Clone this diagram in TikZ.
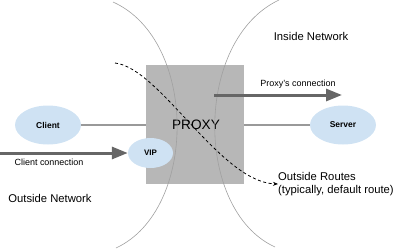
\documentclass[tikz,border=0pt]{standalone}
\usepackage{fontspec}
\setmainfont{Liberation Sans}
\usetikzlibrary{shapes.geometric,arrows.meta}
\definecolor{bubble}{HTML}{CFE2F3}
\definecolor{boxgray}{HTML}{B7B7B7}
\definecolor{linegray}{HTML}{999999}
\definecolor{bordergray}{HTML}{A0A0A0}
\definecolor{arrowgray}{HTML}{666666}
\tikzset{
  host/.style={ellipse, fill=bubble, draw=none, inner sep=0pt, font=\bfseries\fontsize{8.5}{10}\selectfont},
  link/.style={draw=linegray, line width=1.3bp},
  border/.style={draw=bordergray, line width=0.6bp},
  flow/.style={draw=arrowgray, line width=3bp, -{Triangle[length=16bp,width=12bp]}},
  lbl/.style={font=\fontsize{11.3}{13.6}\selectfont, inner sep=0pt},
  small/.style={font=\fontsize{9}{11}\selectfont, inner sep=0pt},
}
\begin{document}
\begin{tikzpicture}[x=1bp,y=-1bp]
\useasboundingbox (0,0) rectangle (415,249);
% proxy box
\node (proxy) [rectangle, fill=boxgray, minimum width=98bp, minimum height=119bp, inner sep=0pt, anchor=north west] at (146,65) {};
\node (ptext) [font=\fontsize{13.7}{16}\selectfont, inner sep=0pt] at (196,125) {PROXY};
% network borders
\draw[border] (113,2) .. controls (198,40) and (198,210) .. (116,248);
\draw[border] (279,0) .. controls (194,40) and (194,210) .. (275,247);
% hosts
\node (client) [host, minimum width=66bp, minimum height=39bp] at (48,125) {Client};
\node (server) [host, minimum width=66bp, minimum height=39bp] at (343,125) {Server};
\node (vip) [host, minimum width=45bp, minimum height=30bp, font=\bfseries\fontsize{8}{9}\selectfont] at (150.5,153) {VIP};
% links
\draw[link] (client.east) -- (proxy.west |- client.east);
\draw[link] (proxy.east |- server.west) -- (server.west);
% connections
\coordinate (cstart) at (0,153);
\draw[flow] (cstart) -- (vip.west);
\node (clabel) [small] at (49,162) {Client connection};
\coordinate (pstart) at (214,95);
\coordinate (pend) at (342,95);
\draw[flow] (pstart) -- (pend);
\node (plabel) [small] at (298,84) {Proxy's connection};
% labels
\node (inside) [lbl] at (311,36) {Inside Network};
\node (outside) [lbl] at (50,198) {Outside Network};
\node (routes) [lbl, align=left, anchor=west] at (278,184) {Outside Routes\\(typically, default route)};
% default route
\coordinate (dstart) at (115,63);
\draw[dashed, line width=0.8bp, dash pattern=on 3bp off 2.5bp, -{Stealth[length=5bp,width=4bp]}] (dstart) .. controls (160,68) and (220,182) .. (routes.west);
\end{tikzpicture}
\end{document}
